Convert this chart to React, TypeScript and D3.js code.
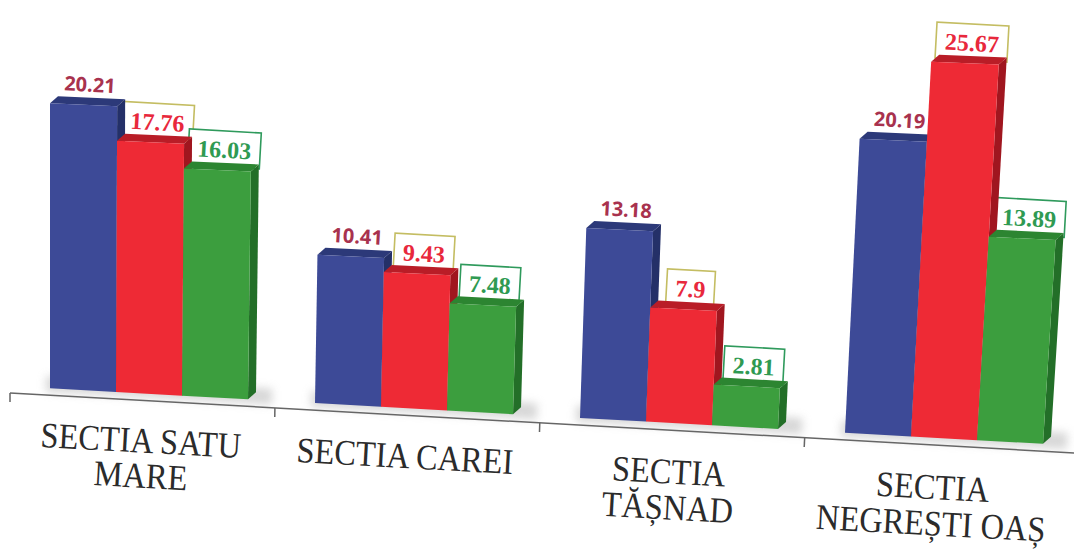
import React from "react";
import * as d3 from "d3";

const categories = ["SECTIA SATU MARE", "SECTIA CAREI", "SECTIA TĂȘNAD", "SECTIA NEGREȘTI OAȘ"];
const categoryLines = [["SECTIA SATU", "MARE"], ["SECTIA CAREI"], ["SECTIA", "TĂȘNAD"], ["SECTIA", "NEGREȘTI OAȘ"]];
const seriesNames = ["blue", "red", "green"];
const blueValues = [20.21, 10.41, 13.18, 20.19];
const redValues = [17.76, 9.43, 7.9, 25.67];
const greenValues = [16.03, 7.48, 2.81, 13.89];

const W = 1074, H = 550;
const B = 386; // flat bar base
const AXIS_Y = 393;
const K = 0.056; // baseline slope of the photo
const DEPTH: [number, number] = [8, -7];
const SERIF = "'Liberation Serif', Tinos, 'Noto Serif', 'Times New Roman', Times, serif";

const front = { blue: "#3d4a97", red: "#ee2a35", green: "#3c9e3e" };
const topC = { blue: "#2c3979", red: "#b91d27", green: "#2c8531" };
const sideC = { blue: "#243068", red: "#a0161f", green: "#236f28" };

function proj(x: number, y: number): [number, number] {
  const h = B - y;
  const s = 1 + (0.035 * (x - 50)) / 850;
  const lean = (0.05 * (x - 50)) / 800;
  return [x + lean * h * s, B - h * s + K * (x - 10)];
}
const add = (p: [number, number], d: [number, number]): [number, number] => [p[0] + d[0], p[1] + d[1]];
const pts = (arr: [number, number][]) => arr.map((p) => p.join(",")).join(" ");

function textW(s: string, fs: number) {
  let w = 0;
  for (const ch of s) w += ch === "." ? 0.25 : 0.5;
  return w * fs;
}

export default function App() {
  const x0 = d3.scaleBand<string>().domain(categories).range([10, 1070]);
  const x1 = d3.scaleBand<string>().domain(seriesNames).range([40, 238]);
  const y = d3.scaleLinear().domain([0, 30]).range([B, B - 30 * 14.1]);
  const seriesVals: Record<string, number[]> = { blue: blueValues, red: redValues, green: greenValues };
  const rot = (Math.atan(K) * 180) / Math.PI;

  const bars: any[] = [];
  const boxes: any[] = [];
  const blueLabels: any[] = [];
  const shadows: any[] = [];

  categories.forEach((c, ci) => {
    const gL = x0(c)! + x1("blue")!;
    const gR = x0(c)! + x1("green")! + x1.bandwidth();
    shadows.push(
      <polygon
        key={"sh" + ci}
        points={pts([proj(gL - 4, B + 4), proj(gR + 24, B + 4), proj(gR + 24, B - 12), proj(gL - 4, B - 12)])}
        fill="#b8b8b8"
        opacity={0.55}
        filter="url(#blur)"
      />
    );
    seriesNames.forEach((s) => {
      const v = seriesVals[s][ci];
      const xL = x0(c)! + x1(s)!;
      const xR = xL + x1.bandwidth();
      const yT = y(v);
      const fl = proj(xL, B), fr = proj(xR, B), tr = proj(xR, yT), tl = proj(xL, yT);
      const key = s + ci;
      bars.push(
        <g key={key}>
          <polygon points={pts([fr, tr, add(tr, DEPTH), add(fr, DEPTH)])} fill={(sideC as any)[s]} />
          <polygon points={pts([tl, tr, add(tr, DEPTH), add(tl, DEPTH)])} fill={(topC as any)[s]} />
          <polygon points={pts([fl, fr, tr, tl])} fill={(front as any)[s]} />
        </g>
      );
      const tc = proj((xL + xR) / 2, yT);
      const label = String(v);
      if (s === "blue") {
        blueLabels.push(
          <text
            key={"l" + key}
            transform={`translate(${tc[0] + 6},${tc[1] - 13}) rotate(${rot})`}
            textAnchor="middle"
            fontFamily="'Open Sans', 'Liberation Sans', sans-serif"
            fontWeight={700}
            fontSize={20}
            fill="#a8324e"
          >
            {label}
          </text>
        );
      } else {
        const fs = 24;
        const bw = textW(label, fs) + 18;
        const bh = 36;
        const cx = tc[0] + 6;
        const bottom = tc[1] - 3;
        boxes.push(
          <g key={"b" + key} transform={`translate(${cx},${bottom}) rotate(${rot})`}>
            <rect
              x={-bw / 2}
              y={-bh}
              width={bw}
              height={bh}
              fill="#ffffff"
              stroke={s === "red" ? "#c4bd62" : "#2f9a5c"}
              strokeWidth={1.6}
            />
            <text
              x={0}
              y={-9}
              textAnchor="middle"
              fontFamily={SERIF}
              fontWeight={700}
              fontSize={fs}
              fill={s === "red" ? "#e8283c" : "#2f9a52"}
            >
              {label}
            </text>
          </g>
        );
      }
    });
  });

  const axisStart = proj(10, AXIS_Y);
  const axisEnd = proj(1080, AXIS_Y);
  const ticks = categories.map((c, i) => {
    const xt = x0(c)!;
    const a = proj(xt, AXIS_Y), b = proj(xt, AXIS_Y + 9);
    return <line key={"t" + i} x1={a[0]} y1={a[1]} x2={b[0]} y2={b[1]} stroke="#666" strokeWidth={1.5} />;
  });

  const catLabels = categories.map((c, i) => {
    const cx = x0(c)! + x0.bandwidth() / 2 - 2;
    return categoryLines[i].map((ln, li) => {
      const p = proj(cx, 445 + li * 35);
      return (
        <text
          key={"c" + i + "_" + li}
          transform={`translate(${p[0]},${p[1]}) rotate(${rot}) scale(0.9,1)`}
          textAnchor="middle"
          fontFamily={SERIF}
          fontSize={36}
          fill="#2b2b2b"
        >
          {ln}
        </text>
      );
    });
  });

  return (
    <svg width={W} height={H} style={{ position: "absolute", left: 0, top: 0, background: "#fff" }}>
      <defs>
        <filter id="blur" x="-20%" y="-50%" width="140%" height="200%">
          <feGaussianBlur stdDeviation={4} />
        </filter>
      </defs>
      <rect width={W} height={H} fill="#ffffff" />
      {shadows}
      <line x1={axisStart[0]} y1={axisStart[1]} x2={axisEnd[0]} y2={axisEnd[1]} stroke="#666" strokeWidth={1.5} />
      {ticks}
      {boxes}
      {bars}
      {blueLabels}
      {catLabels}
    </svg>
  );
}
